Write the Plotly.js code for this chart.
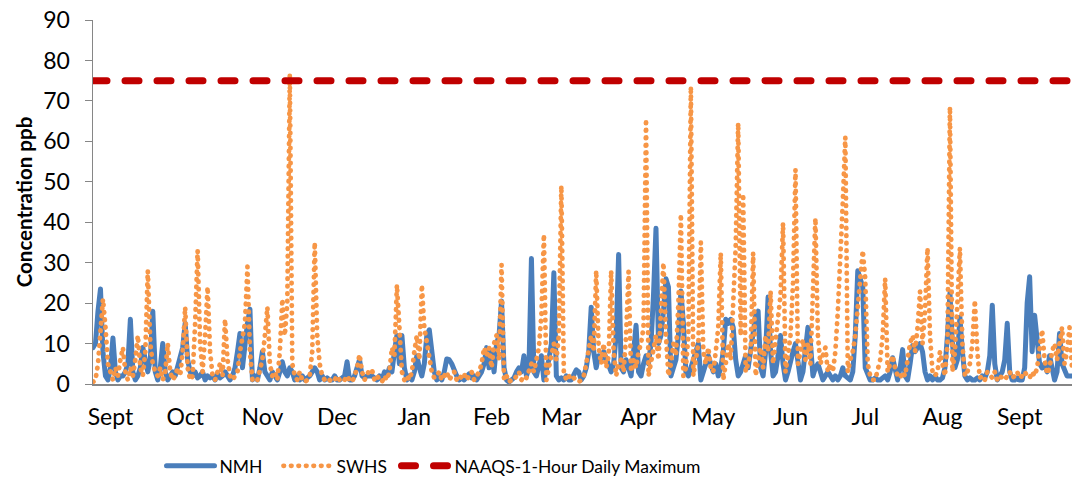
<!DOCTYPE html>
<html>
<head>
<meta charset="utf-8">
<script src="https://cdn.plot.ly/plotly-3.0.1.min.js"></script>
<style>
html,body{margin:0;padding:0;background:#fff;}
#chart{width:1075px;height:491px;}
path.js-line{stroke-linecap:round;stroke-linejoin:round;}
</style>
</head>
<body>
<div id="chart"></div>
<script>
// First day of the daily record and month tick labels
const startDate = '2012-08-25';
const monthTicks = ['2012-09-01','2012-10-01','2012-11-01','2012-12-01','2013-01-01','2013-02-01','2013-03-01','2013-04-01','2013-05-01','2013-06-01','2013-07-01','2013-08-01','2013-09-01'];
const monthLabels = ['Sept','Oct','Nov','Dec','Jan','Feb','Mar','Apr','May','Jun','Jul','Aug','Sept'];

// Daily 1-hour maximum ozone, ppb
const nmh = [
9,10,18,23.5,8,2,1,4,11.4,3,1,2,2,3,5,16,3,1,2,4,
9,5,3,6,18,3,1,4,10,3,1,2,3,2,4,6,9,15,6,3,
2,3,1.5,2,3,1,2,1.5,2,1,2.5,1.5,2,3,2,1,2,4,8,12.5,
4,10,15,18.5,1,2,1,4,8,3,2,1,3,2,1,3,5.5,3,2,4,
3,1,2,1,2,1,1.5,2,3,4,3,1,2,1,1.5,1,1,2,1,1,
1.5,2,5.5,1,1,2,4,6,2,1.5,2,2,2,1.5,1,2,1,3,2,4,
3,8,12,5,12,4,1,2,1,3,7,4,2,5,12,13.4,9,3,1,2,
1,3,6.2,6,5,3,2,1,1.5,1,2,2.5,1.5,2,1,2,3,5,9,4,
8,3,10,12,20.5,4,1,0.5,1,1.5,3,4,3,7,2,4,31,3,2,4,
7,1,3,6,10,27.5,2,1,1.5,1,2,1,1,2,3.5,3,1,2,4,8,
19,8,4,7,6,8,6,4,3,5,12,32,4,3,6,4,2,8,14.5,3,
2,5,7,5,10,22,38.5,10,12,18,26,24,2,4,6,12,23,15,3,2,
4,6,9,10,1,3,5,7,5,3,5,2,4,8,16,15,16,14,6,2,
3,5,7,4,8,12,17,18,4,2,8,21.5,8,2,3,7,12,5,1,3,
6,8,10,4,1,3,8,14,10,2,4,5,3,1,2,3,2,1,2,1,
2,4,2,1.5,1,3,12,28,26,24,4,2,1,1,1.5,1,1,1.5,2,1,
3,6.5,3,1,4,8.5,2,1,5,9.5,8,9,10,8,3,1,2,1,2,1,
1,1.5,4,12,22.5,10,4,6,16.5,8,2,1,1.5,1,1,1.5,1,2,1.5,3,
7,19.5,5,1,2,3,6,15,3,1,1,1.5,1,1,4,20,26.5,8,17,10,
5,4,5,3,7,4,1,3,12.5,5,3,2,2,2
];
const swhs = [
0.5,1,5,12,21,14,5,3,1,4,2,6,9,3,1,4,2,6,12,4,
2,8,28,10,5,3,2,4,1,3,10,3,1,2,4,2,8,19,4,1,
2,15,33,10,3,12,24,8,2,1,3,5,2,16,6,2,1,2,3,8,
12,15,29,8,1,0.5,1,3,6,12,19,5,2,3,1,8,21,12,20,76.5,
5,2,1,3,1,0.5,1,2,8,35,12,5,2,1,0.5,1,0.5,1,2,1,
0.5,1,2,1,0.5,2,4,7.3,3,1,2,3.5,3.5,1,2,1,0.5,2,1,3,
9,7,24.5,14,3,1,2,1,3,8,12,6,24.5,14,10,7,3,1.5,2,3,
1,2,3,1,2,3,1,2,1.5,2.5,1,2,3,1,2,3,5,9,7,9,
4,10,12,6,29.5,1,2,0.5,1,1,2,3,1,2,1.5,3,5,3,6,9,
17,37,1,4,7,10,6,12,49,3,1,2,1,1.5,1,0.5,1,2,5,9,
12,8,28,9,5,10,4,7,28,8,2,5,6,3,12,27.8,3,6,4,8,
10,14,65.5,2,5,8,12,6,18,30,12,2,5,10,7,20,42,2,4,12,
73.5,2,6,10,35,8,5,9,4,3,8,14,32.4,1,5,10,6,18,34,64.5,
12,47,3,5,8,32.4,2,6,9,4,12,8,23,5,10,16,22,39.8,3,7,
12,25,53,5,8,11,6,10,5,20,41,12,5,7,9,3,5,3,8,18,
30,45,61,3,6,8,12,20,26,33,26,5,2,1,1,3,6,12,26,3,
5,7,4,2,1.5,3,2,6,10,12,8,14,22.9,10,18,33.6,12,3,2,3,
8,5,2,10,68.5,3,8,20,33.6,10,2,3,5,10,20.7,8,1.5,2,1,3,
2,1.5,3,1,2,1.5,1,2,3,1.5,2,3,1.5,2,3,2,1.5,3,2,4,
8,13.4,6,2.5,4,8,10,6,10,14,5,8,14,4
];
const naaqsLimit = 75;

const seriesNames = ['NMH','SWHS','NAAQS-1-Hour Daily Maximum'];

// build the daily date sequence for the x axis
const dates = [];
const t0 = Date.parse(startDate + 'T00:00:00Z');
for (let i = 0; i < nmh.length; i++) {
  dates.push(new Date(t0 + i * 86400000).toISOString().slice(0,10));
}

const traces = [
  {x: dates, y: nmh, name: seriesNames[0], type:'scatter', mode:'lines', legend:'legend',
   line:{color:'#4A7EBB', width:5}},
  {x: dates, y: swhs, name: seriesNames[1], type:'scatter', mode:'lines', legend:'legend2',
   line:{color:'#F79646', width:4.8, dash:'0.5px,7px'}},
  {x: [dates[0], dates[dates.length-1]], y: [naaqsLimit, naaqsLimit], name: seriesNames[2], legend:'legend3',
   type:'scatter', mode:'lines', line:{color:'#C00000', width:7, dash:'14px,18px'}}
];

const plotLeft = 93, plotWidth = 979;
function legendAt(px) {
  return {orientation:'h', xref:'paper', yref:'paper', x:(px - plotLeft) / plotWidth, xanchor:'left',
          y:-0.225, yanchor:'middle', itemwidth:48,
          font:{size:17.5, family:'Lato, sans-serif'}, bgcolor:'rgba(0,0,0,0)'};
}

const layout = {
  width:1075, height:491,
  margin:{l:93, r:3, t:20, b:107, autoexpand:false},
  paper_bgcolor:'#fff', plot_bgcolor:'#fff',
  font:{family:'Lato, "Open Sans", sans-serif', color:'#000', size:20},
  showlegend:true,
  legend:legendAt(161.5),
  legend2:legendAt(278.5),
  legend3:legendAt(396.5),
  xaxis:{type:'date', range:[dates[0], dates[dates.length-1]],
         tickmode:'array', tickvals:monthTicks, ticktext:monthLabels,
         showgrid:false, zeroline:false, showline:true, linecolor:'#868686', linewidth:1.5,
         ticks:'outside', ticklen:12, tickcolor:'rgba(0,0,0,0)', tickfont:{size:23}},
  yaxis:{range:[0,90], tick0:0, dtick:10, showgrid:false, zeroline:false,
         showline:true, linecolor:'#868686', linewidth:1.5,
         ticks:'outside', ticklen:7, tickcolor:'#868686', tickfont:{size:23},
         ticklabelstandoff:10,
         title:{text:'Concentration ppb', font:{size:20.5, weight:'bold'}, standoff:5}}
};

Plotly.newPlot('chart', traces, layout, {displayModeBar:false, staticPlot:true});
</script>
</body>
</html>
